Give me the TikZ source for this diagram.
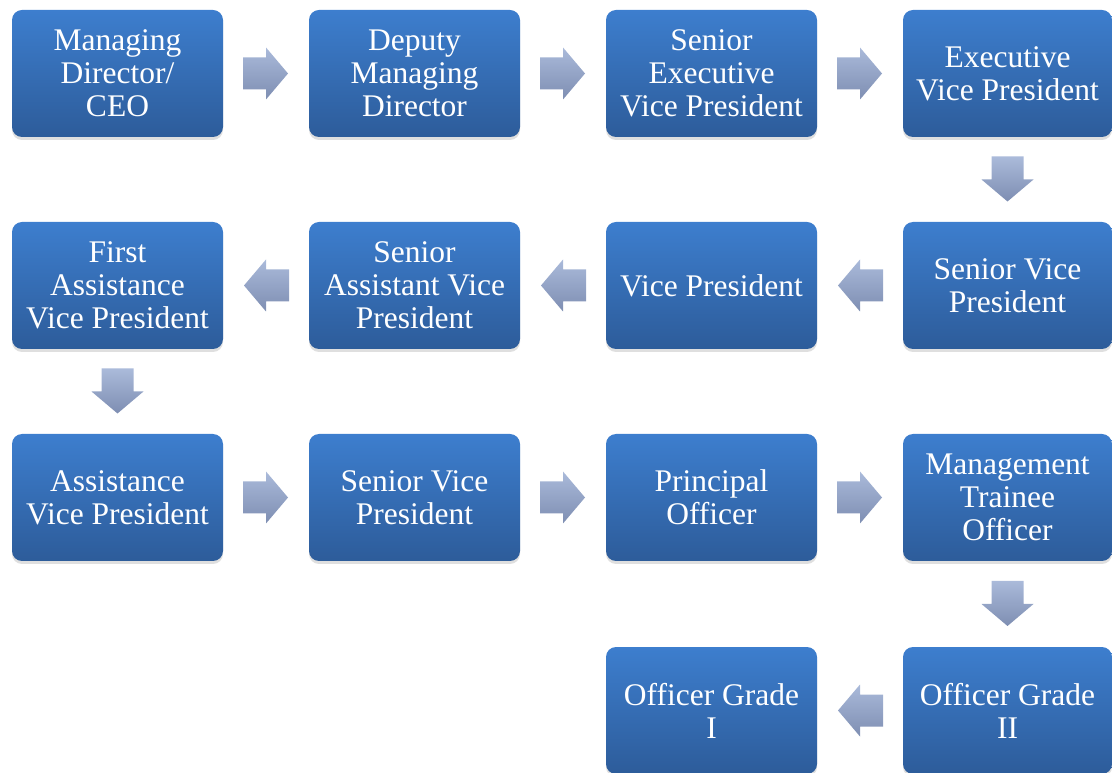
\documentclass[tikz,border=0pt]{standalone}
\usepackage{fontspec}
\setmainfont{Liberation Serif}
\usetikzlibrary{shadows,calc}
\definecolor{boxtop}{RGB}{61,126,206}
\definecolor{boxbot}{RGB}{45,92,154}
\definecolor{arrtop}{RGB}{170,186,218}
\definecolor{arrbot}{RGB}{126,142,178}
\tikzset{
  stepbox/.style={rectangle, rounded corners=10pt, minimum width=211pt, minimum height=127pt,
    inner sep=0pt, top color=boxtop, bottom color=boxbot, draw=none,
    drop shadow={shadow xshift=0pt, shadow yshift=-3pt, opacity=0.18, fill=black!70},
    text=white, align=center,
    font=\fontsize{31.5}{33}\selectfont},
  blockarrow/.style={top color=arrtop, bottom color=arrbot, draw=none}
}
\begin{document}
\begin{tikzpicture}[x=1pt,y=1pt]
\useasboundingbox (0,0) rectangle (1112,772);
\clip (0,0) rectangle (1112,772);
% row 1
\node[stepbox] (b1) at (117.5,698.5) {Managing\\Director/\\CEO};
\node[stepbox] (b2) at (414.5,698.5) {Deputy\\Managing\\Director};
\node[stepbox] (b3) at (711.5,698.5) {Senior\\Executive\\Vice President};
\node[stepbox, minimum width=209pt] (b4) at (1007.5,698.5) {Executive\\Vice President};
% row 2
\node[stepbox, minimum width=209pt] (b5) at (1007.5,486.5) {Senior Vice\\President};
\node[stepbox] (b6) at (711.5,486.5) {Vice President};
\node[stepbox] (b7) at (414.5,486.5) {Senior\\Assistant Vice\\President};
\node[stepbox] (b8) at (117.5,486.5) {First\\Assistance\\Vice President};
% row 3
\node[stepbox] (b9) at (117.5,274.5) {Assistance\\Vice President};
\node[stepbox] (b10) at (414.5,274.5) {Senior Vice\\President};
\node[stepbox] (b11) at (711.5,274.5) {Principal\\Officer};
\node[stepbox, minimum width=209pt] (b12) at (1007.5,274.5) {Management\\Trainee\\Officer};
% row 4
\node[stepbox, minimum width=209pt] (b13) at (1007.5,61.5) {Officer Grade\\II};
\node[stepbox] (b14) at (711.5,61.5) {Officer Grade\\I};
% right arrows
\foreach \a/\b in {b1/b2,b2/b3,b3/b4,b9/b10,b10/b11,b11/b12}{
  \coordinate (m) at ($(\a.east)!0.5!(\b.west)$);
  \shade[blockarrow] ($(m)+(-23,16)$) -- ($(m)+(0,16)$) -- ($(m)+(0,26)$) -- ($(m)+(22,0)$)
     -- ($(m)+(0,-26)$) -- ($(m)+(0,-16)$) -- ($(m)+(-23,-16)$) -- cycle;
}
% left arrows
\foreach \a/\b in {b5/b6,b6/b7,b7/b8,b13/b14}{
  \coordinate (m) at ($(\a.west)!0.5!(\b.east)$);
  \shade[blockarrow] ($(m)+(23,16)$) -- ($(m)+(0,16)$) -- ($(m)+(0,26)$) -- ($(m)+(-22,0)$)
     -- ($(m)+(0,-26)$) -- ($(m)+(0,-16)$) -- ($(m)+(23,-16)$) -- cycle;
}
% down arrows
\foreach \a/\b in {b4/b5,b8/b9,b12/b13}{
  \coordinate (m) at ($(\a.south)!0.5!(\b.north)$);
  \shade[blockarrow] ($(m)+(-16,23)$) -- ($(m)+(16,23)$) -- ($(m)+(16,0)$) -- ($(m)+(26,0)$)
     -- ($(m)+(0,-22)$) -- ($(m)+(-26,0)$) -- ($(m)+(-16,0)$) -- cycle;
}
\end{tikzpicture}
\end{document}
